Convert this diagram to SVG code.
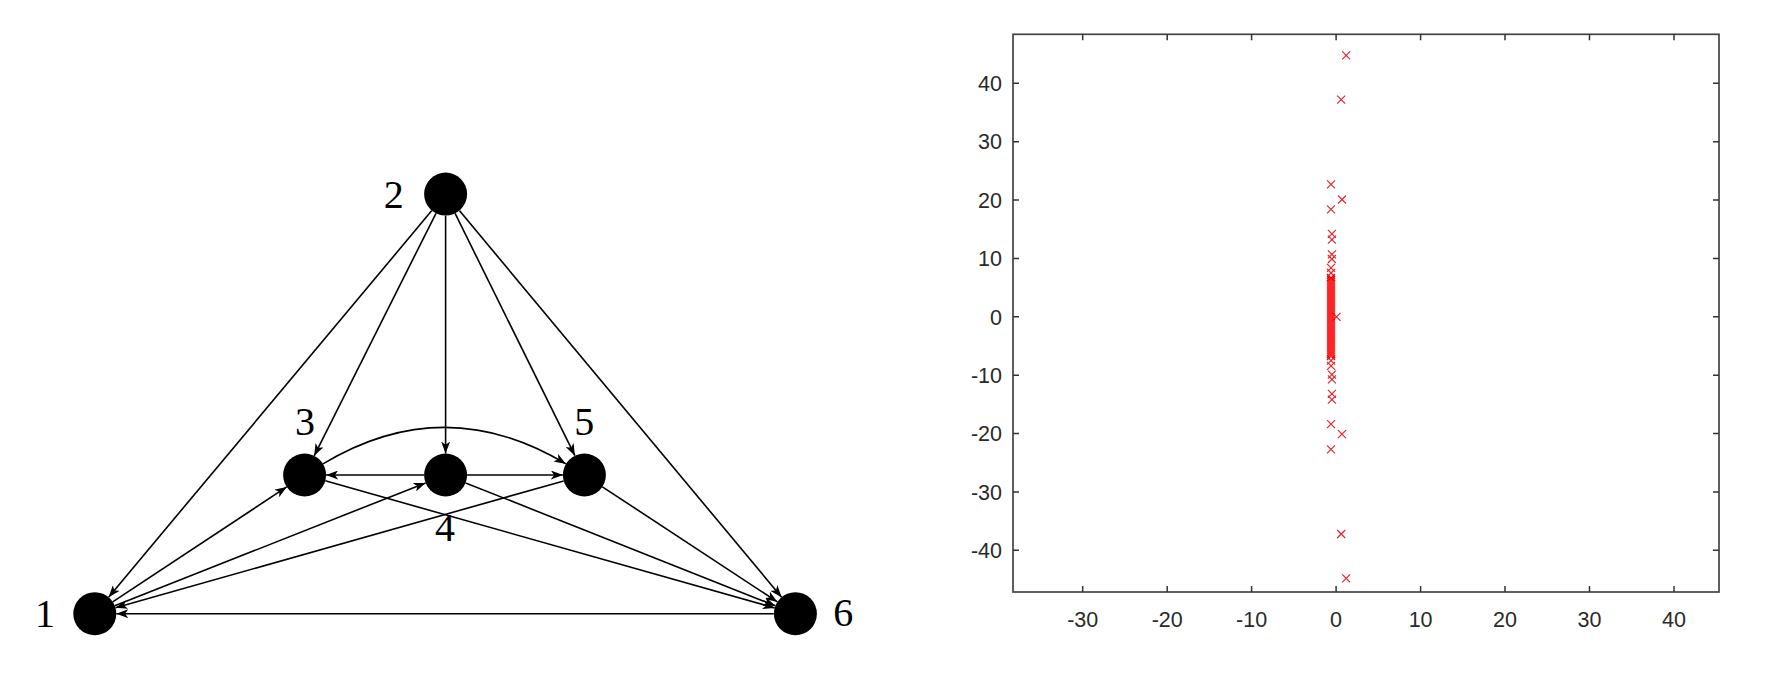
<svg xmlns="http://www.w3.org/2000/svg" xmlns:xlink="http://www.w3.org/1999/xlink" width="1769" height="692" viewBox="0 0 1769 692">
<style>
.edge{fill:none;stroke:#000;stroke-width:1.6;marker-end:url(#ah)}
.node{fill:#000}
.lbl{font-family:"Liberation Serif","DejaVu Serif",serif;font-size:40px;fill:#000;text-anchor:middle}
.tick{stroke:#333;stroke-width:1.5}
.axis{fill:none;stroke:#444;stroke-width:1.7}
.tl{font-family:"Liberation Sans",Arial,sans-serif;font-size:21.5px;fill:#2a2a2a}
.xm{fill:none;stroke:#e8242a;stroke-width:1.2}
.dense{fill:none;stroke:#ff0000;stroke-width:1.3}
</style>
<defs>
<marker id="ah" viewBox="0 0 12 9" refX="12" refY="4.5" markerWidth="12" markerHeight="9" markerUnits="userSpaceOnUse" orient="auto">
<path d="M0,0 L12,4.5 L0,9 L3.2,4.5 z" fill="#000"/>
</marker>
<path id="xm" d="M-4,-4 L4,4 M-4,4 L4,-4"/>
</defs>
<rect width="1769" height="692" fill="#fff"/>

<g id="connectors">
<path class="edge" d="M431.8,210.6 L108.6,597.2"/>
<path class="edge" d="M436.0,213.3 L314.2,455.8"/>
<path class="edge" d="M445.6,215.6 L445.6,453.5"/>
<path class="edge" d="M455.1,213.4 L574.9,455.7"/>
<path class="edge" d="M459.4,210.6 L781.6,597.2"/>
<path class="edge" d="M424.1,475 L326.1,475"/>
<path class="edge" d="M467.1,475 L562.9,475"/>
<path class="edge" d="M112.7,601.8 L286.7,486.9"/>
<path class="edge" d="M114.8,605.8 L425.6,482.9"/>
<path class="edge" d="M563.7,480.9 L115.5,607.8"/>
<path class="edge" d="M773.9,613.7 L116.3,613.7"/>
<path class="edge" d="M325.3,480.8 L774.7,607.9"/>
<path class="edge" d="M465.6,482.9 L775.4,605.8"/>
<path class="edge" d="M602.4,486.8 L777.4,601.9"/>
<path class="edge" d="M323,463.9 Q444.5,390.9 566,463.9"/>
</g>

<g id="node1"><circle class="node" cx="94.8" cy="613.7" r="21.5"/><text class="lbl" x="45" y="627">1</text></g>
<g id="node2"><circle class="node" cx="445.6" cy="194.1" r="21.5"/><text class="lbl" x="393.7" y="207.5">2</text></g>
<g id="node3"><circle class="node" cx="304.6" cy="475" r="21.5"/><text class="lbl" x="305" y="435">3</text></g>
<g id="node4"><circle class="node" cx="445.6" cy="475" r="21.5"/><text class="lbl" x="445" y="541">4</text></g>
<g id="node5"><circle class="node" cx="584.4" cy="475" r="21.5"/><text class="lbl" x="584.3" y="435">5</text></g>
<g id="node6"><circle class="node" cx="795.4" cy="613.7" r="21.5"/><text class="lbl" x="843.3" y="626">6</text></g>

<g id="plot">
<rect class="axis" x="1013" y="34.3" width="706" height="557.7"/>
<g id="xticks">
<path class="tick" d="M1082.7,592v-6M1167.2,592v-6M1251.6,592v-6M1336.1,592v-6M1420.6,592v-6M1505,592v-6M1589.5,592v-6M1674,592v-6"/>
<path class="tick" d="M1082.7,34.3v6M1167.2,34.3v6M1251.6,34.3v6M1336.1,34.3v6M1420.6,34.3v6M1505,34.3v6M1589.5,34.3v6M1674,34.3v6"/>
</g>
<g id="yticks">
<path class="tick" d="M1013,83.3h6M1013,141.7h6M1013,200h6M1013,258.4h6M1013,316.8h6M1013,375.2h6M1013,433.6h6M1013,491.9h6M1013,550.3h6"/>
<path class="tick" d="M1719,83.3h-6M1719,141.7h-6M1719,200h-6M1719,258.4h-6M1719,316.8h-6M1719,375.2h-6M1719,433.6h-6M1719,491.9h-6M1719,550.3h-6"/>
</g>
<g class="tl" text-anchor="middle">
<text x="1082.7" y="627">-30</text>
<text x="1167.2" y="627">-20</text>
<text x="1251.6" y="627">-10</text>
<text x="1336.1" y="627">0</text>
<text x="1420.6" y="627">10</text>
<text x="1505" y="627">20</text>
<text x="1589.5" y="627">30</text>
<text x="1674" y="627">40</text>
</g>
<g class="tl" text-anchor="end">
<text x="1002" y="91">40</text>
<text x="1002" y="149.4">30</text>
<text x="1002" y="207.7">20</text>
<text x="1002" y="266.1">10</text>
<text x="1002" y="324.5">0</text>
<text x="1002" y="382.9">-10</text>
<text x="1002" y="441.3">-20</text>
<text x="1002" y="499.6">-30</text>
<text x="1002" y="558">-40</text>
</g>
<g id="markers" class="xm">
<use xlink:href="#xm" x="1346.2" y="55.3"/>
<use xlink:href="#xm" x="1341.2" y="99.6"/>
<use xlink:href="#xm" x="1331" y="184.3"/>
<use xlink:href="#xm" x="1342" y="199.5"/>
<use xlink:href="#xm" x="1331" y="209.4"/>
<use xlink:href="#xm" x="1331.9" y="233.9"/>
<use xlink:href="#xm" x="1331.9" y="239.7"/>
<use xlink:href="#xm" x="1331.9" y="254.3"/>
<use xlink:href="#xm" x="1331.9" y="259"/>
<use xlink:href="#xm" x="1331" y="267.8"/>
<use xlink:href="#xm" x="1331" y="273"/>
<use xlink:href="#xm" x="1336.5" y="316.8"/>
<use xlink:href="#xm" x="1346.2" y="578.3"/>
<use xlink:href="#xm" x="1341.2" y="534"/>
<use xlink:href="#xm" x="1331" y="449.3"/>
<use xlink:href="#xm" x="1342" y="434.1"/>
<use xlink:href="#xm" x="1331" y="424.2"/>
<use xlink:href="#xm" x="1331.9" y="399.7"/>
<use xlink:href="#xm" x="1331.9" y="393.9"/>
<use xlink:href="#xm" x="1331.9" y="379.3"/>
<use xlink:href="#xm" x="1331.9" y="374.6"/>
<use xlink:href="#xm" x="1331" y="365.8"/>
<use xlink:href="#xm" x="1331" y="360.6"/>
<path class="dense" d="M1327,274l8,8m0,-8l-8,8M1327,276l8,8m0,-8l-8,8M1327,278l8,8m0,-8l-8,8M1327,280l8,8m0,-8l-8,8M1327,282l8,8m0,-8l-8,8M1327,284l8,8m0,-8l-8,8M1327,286l8,8m0,-8l-8,8M1327,288l8,8m0,-8l-8,8M1327,290l8,8m0,-8l-8,8M1327,292l8,8m0,-8l-8,8M1327,294l8,8m0,-8l-8,8M1327,296l8,8m0,-8l-8,8M1327,298l8,8m0,-8l-8,8M1327,300l8,8m0,-8l-8,8M1327,302l8,8m0,-8l-8,8M1327,304l8,8m0,-8l-8,8M1327,306l8,8m0,-8l-8,8M1327,308l8,8m0,-8l-8,8M1327,310l8,8m0,-8l-8,8M1327,312l8,8m0,-8l-8,8M1327,314l8,8m0,-8l-8,8M1327,316l8,8m0,-8l-8,8M1327,318l8,8m0,-8l-8,8M1327,320l8,8m0,-8l-8,8M1327,322l8,8m0,-8l-8,8M1327,324l8,8m0,-8l-8,8M1327,326l8,8m0,-8l-8,8M1327,328l8,8m0,-8l-8,8M1327,330l8,8m0,-8l-8,8M1327,332l8,8m0,-8l-8,8M1327,334l8,8m0,-8l-8,8M1327,336l8,8m0,-8l-8,8M1327,338l8,8m0,-8l-8,8M1327,340l8,8m0,-8l-8,8M1327,342l8,8m0,-8l-8,8M1327,344l8,8m0,-8l-8,8M1327,346l8,8m0,-8l-8,8M1327,348l8,8m0,-8l-8,8M1327,350l8,8m0,-8l-8,8M1327,352l8,8m0,-8l-8,8"/>
</g>
</g>
</svg>
